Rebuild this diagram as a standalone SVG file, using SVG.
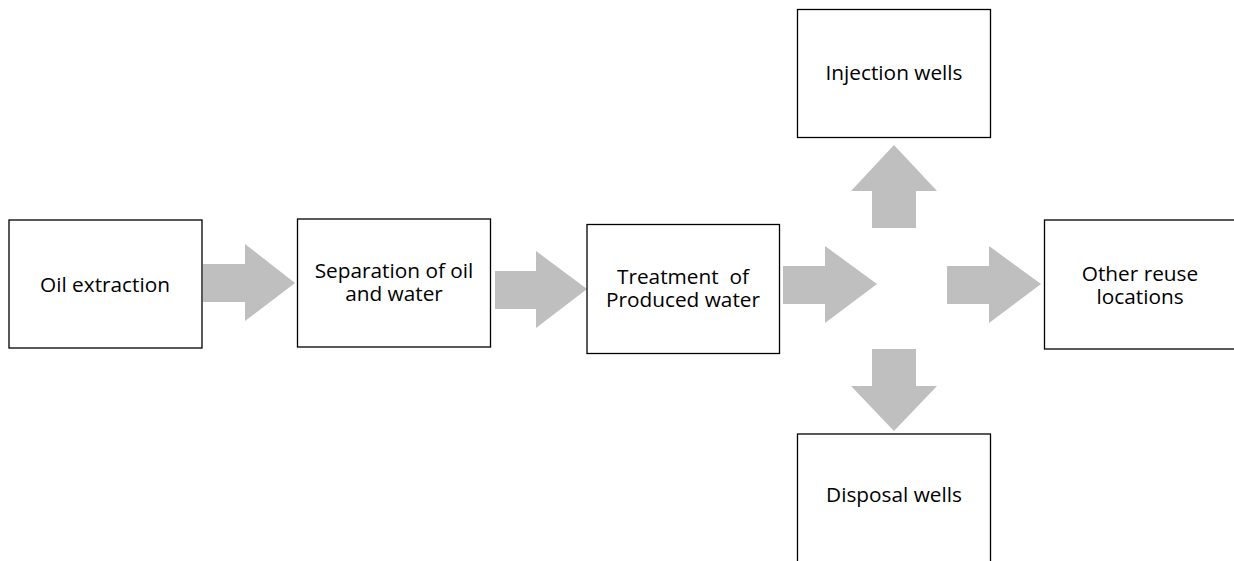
<svg xmlns="http://www.w3.org/2000/svg" width="1234" height="561" viewBox="0 0 1234 561">
  <style>
    .box { fill: #ffffff; stroke: #000000; stroke-width: 1.3; }
    .lbl { font-family: "Open Sans", "Liberation Sans", sans-serif; font-size: 20.8px; fill: #000000; text-anchor: middle; }
    .flow { fill: #bfbfbf; stroke: none; }
  </style>
  <rect width="1234" height="561" fill="#ffffff"/>

  <!-- block arrows between stages -->
  <g id="connectors">
    <polygon class="flow" points="203,264 245,264 245,244 295,283 245,321 245,302 203,302"/>
    <polygon class="flow" points="495,271 536,271 536,251 587,289 536,328 536,309 495,309"/>
    <polygon class="flow" points="783,266 825,266 825,246 877,284 825,323 825,304 783,304"/>
    <polygon class="flow" points="947,266 989,266 989,246 1041,284 989,323 989,304 947,304"/>
    <polygon class="flow" points="872,228 872,191 851,191 894,145 937,191 916,191 916,228"/>
    <polygon class="flow" points="872,349 916,349 916,386 937,386 894,431 851,386 872,386"/>
  </g>

  <g id="oil-extraction">
    <rect class="box" x="9" y="220" width="193" height="128"/>
    <text class="lbl" x="105" y="291.5">Oil extraction</text>
  </g>

  <g id="separation">
    <rect class="box" x="297.5" y="219" width="193" height="128"/>
    <text class="lbl" x="394" y="277.5"><tspan x="394">Separation of oil</tspan><tspan x="394" dy="23">and water</tspan></text>
  </g>

  <g id="treatment">
    <rect class="box" x="587" y="224.5" width="192.5" height="129"/>
    <text class="lbl" x="683" y="284" xml:space="preserve"><tspan x="683">Treatment  of</tspan><tspan x="683" dy="23">Produced water</tspan></text>
  </g>

  <g id="injection-wells">
    <rect class="box" x="797.5" y="9.5" width="193" height="128"/>
    <text class="lbl" x="894" y="80">Injection wells</text>
  </g>

  <g id="other-reuse">
    <rect class="box" x="1044.5" y="220" width="200" height="129"/>
    <text class="lbl" x="1140" y="281"><tspan x="1140">Other reuse</tspan><tspan x="1140" dy="23">locations</tspan></text>
  </g>

  <g id="disposal-wells">
    <rect class="box" x="797.5" y="434" width="193" height="140"/>
    <text class="lbl" x="894" y="502">Disposal wells</text>
  </g>
</svg>
